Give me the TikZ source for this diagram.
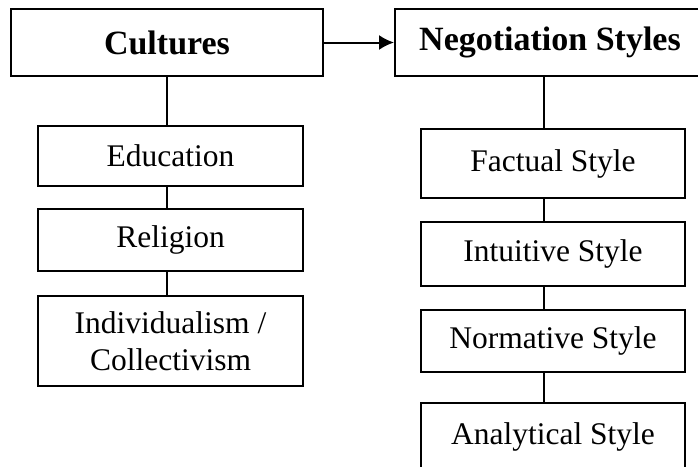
\documentclass[tikz,border=0pt]{standalone}
\usepackage{fontspec}
\setmainfont{Liberation Serif}
\usetikzlibrary{arrows.meta}

\tikzset{
  head/.style={draw,line width=2pt,inner sep=0pt,font=\fontsize{34}{40}\selectfont\bfseries},
  item/.style={draw,line width=2pt,inner sep=0pt,align=center,font=\fontsize{31.5}{36.5}\selectfont},
  link/.style={line width=1.6pt}
}

\begin{document}
\begin{tikzpicture}[x=1pt,y=-1pt]
\useasboundingbox (0,0) rectangle (698,466);
\clip (0,0) rectangle (698,466);
% top row
\node[head,minimum width=312pt,minimum height=67pt] at (167,42.5) (cult){Cultures};
\node[head,minimum width=310pt,minimum height=67pt] at (550,42.5) (neg){Negotiation Styles};
\draw[line width=2pt,-{Latex[length=15pt,width=15pt]}] (cult.east) -- (neg.west);
% left column
\node[item,minimum width=265pt,minimum height=60pt] at (170.5,156) (edu){Education};
\node[item,minimum width=265pt,minimum height=62pt] at (170.5,240) (rel){Religion};
\node[item,minimum width=265pt,minimum height=90pt] at (170.5,341) (ind){Individualism /\\Collectivism};
\draw[link] (cult.south) -- (cult.south |- edu.north);
\draw[link] (cult.south |- edu.south) -- (cult.south |- rel.north);
\draw[link] (cult.south |- rel.south) -- (cult.south |- ind.north);
% right column
\node[item,minimum width=264pt,minimum height=69pt] at (553,163.5) (fact){Factual Style};
\node[item,minimum width=264pt,minimum height=64pt] at (553,254) (intu){Intuitive Style};
\node[item,minimum width=264pt,minimum height=62pt] at (553,341) (norm){Normative Style};
\node[item,minimum width=264pt,minimum height=67pt] at (553,436.5) (anal){Analytical Style};
\coordinate (spine) at (544,0);
\draw[link] (spine |- neg.south) -- (spine |- fact.north);
\draw[link] (spine |- fact.south) -- (spine |- intu.north);
\draw[link] (spine |- intu.south) -- (spine |- norm.north);
\draw[link] (spine |- norm.south) -- (spine |- anal.north);
\end{tikzpicture}
\end{document}
